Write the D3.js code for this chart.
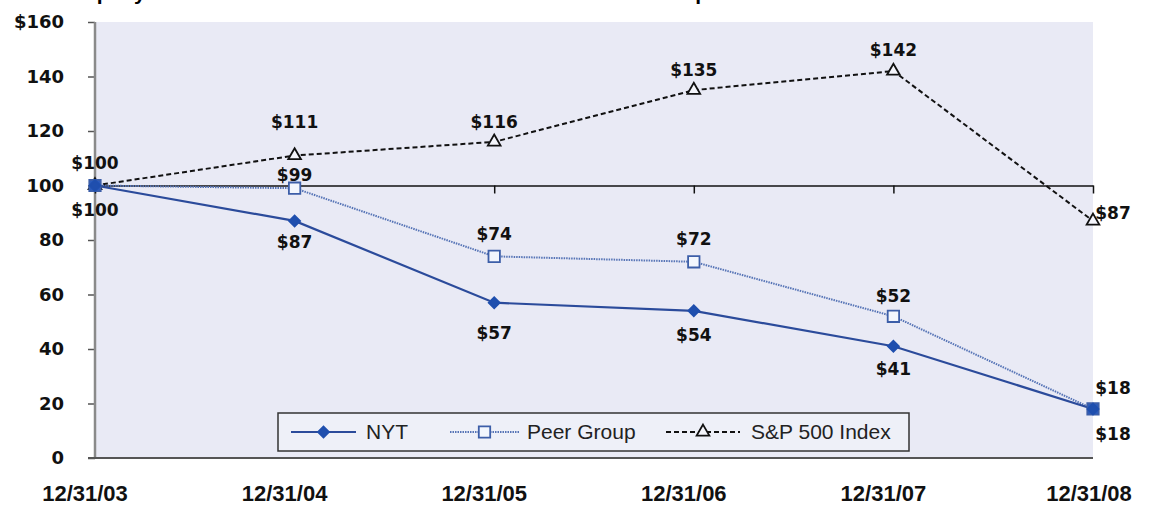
<!DOCTYPE html>
<html>
<head>
<meta charset="utf-8">
<script src="https://cdn.jsdelivr.net/npm/d3@7"></script>
<style>
  body { margin: 0; background: #fff; }
  svg text { font-family: "Liberation Sans", Arial, sans-serif; }
</style>
</head>
<body>
<div id="canvas"></div>
<script>
// данные с картинки
var dates = ["12/31/03", "12/31/04", "12/31/05", "12/31/06", "12/31/07", "12/31/08"]
var nyt = [100, 87, 57, 54, 41, 18]
var peer = [100, 99, 74, 72, 52, 18]
var sp500 = [100, 111, 116, 135, 142, 87]
var yTicks = [0, 20, 40, 60, 80, 100, 120, 140, 160]

var width = 1149, height = 508
var plotLeft = 95, plotRight = 1093, plotTop = 22, plotBottom = 458

var x = d3.scalePoint().domain(dates).range([plotLeft, plotRight])
var y = d3.scaleLinear().domain([0, 160]).range([plotBottom, plotTop])

var svg = d3.select("#canvas").append("svg")
    .attr("width", width)
    .attr("height", height)

// заголовок (обрезан сверху, как на оригинале)
svg.append("text")
    .attr("x", 50).attr("y", 0)
    .style("font-size", "21px").style("font-weight", "bold")
    .text("Company's Stock Performance vs. S&P 500 Index and Peer Group")

// фон области
svg.append("rect")
    .attr("x", plotLeft).attr("y", plotTop)
    .attr("width", plotRight - plotLeft).attr("height", plotBottom - plotTop)
    .style("fill", "#e9eaf5")

// ось Y
var yAxis = svg.append("g")
    .attr("transform", "translate(" + plotLeft + ",0)")
    .call(d3.axisLeft(y).tickValues(yTicks).tickSize(7).tickPadding(24)
        .tickFormat(function (d) { return d == 160 ? "$160" : d }))
yAxis.select(".domain").remove()
yAxis.selectAll("line").style("stroke", "#555").style("stroke-width", 1.5)
yAxis.selectAll("text")
    .style("font-size", "18px").style("font-weight", "bold")
    .style("font-family", "DejaVu Sans, sans-serif")
    .style("fill", "#111")

svg.append("line")
    .attr("x1", plotLeft).attr("x2", plotLeft)
    .attr("y1", plotTop).attr("y2", plotBottom)
    .style("stroke", "#8a8a8a").style("stroke-width", 2.5)

// нижняя линия
svg.append("line")
    .attr("x1", plotLeft - 7).attr("x2", plotRight)
    .attr("y1", plotBottom).attr("y2", plotBottom)
    .style("stroke", "#555").style("stroke-width", 2)

// ось X пересекает на 100
var xAxis = svg.append("g")
    .attr("transform", "translate(0," + y(100) + ")")
    .call(d3.axisBottom(x).tickSize(8).tickSizeOuter(0).tickFormat(""))
xAxis.select(".domain").style("stroke", "#111").style("stroke-width", 1.5)
xAxis.selectAll("line").style("stroke", "#111").style("stroke-width", 1.5)

// подписи дат внизу (чуть левее делений, как в оригинале)
svg.selectAll(".xlab").data(dates).enter().append("text")
    .attr("class", "xlab")
    .attr("x", function (d, i) { return x(d) - (i == dates.length - 1 ? 4 : 10) })
    .attr("y", 501)
    .attr("text-anchor", "middle")
    .style("font-size", "22px").style("font-weight", "bold")
    .style("fill", "#111")
    .text(function (d) { return d })

var line = d3.line()
    .x(function (d, i) { return x(dates[i]) })
    .y(function (d) { return y(d) })

// S&P 500
svg.append("path").datum(sp500)
    .attr("d", line)
    .style("fill", "none").style("stroke", "#111")
    .style("stroke-width", 2).style("stroke-dasharray", "5,3")

// Peer group
svg.append("path").datum(peer)
    .attr("d", line)
    .style("fill", "none").style("stroke", "#5674b6")
    .style("stroke-width", 2).style("stroke-dasharray", "1.5,1")

// NYT
svg.append("path").datum(nyt)
    .attr("d", line)
    .style("fill", "none").style("stroke", "#2b4b9b")
    .style("stroke-width", 2.2)

var tri = d3.symbol().type(d3.symbolTriangle).size(70)
var sq = d3.symbol().type(d3.symbolSquare).size(130)
var dia = d3.symbol().type(d3.symbolSquare).size(60)

function markers(data, sym, fill, stroke, cls, rot) {
    svg.selectAll("." + cls).data(data).enter().append("path")
        .attr("class", cls)
        .attr("d", sym)
        .attr("transform", function (d, i) {
            return "translate(" + x(dates[i]) + "," + y(d) + ") rotate(" + rot + ")"
        })
        .style("fill", function (d, i) {
            // там, где квадрат совпадает с ромбом, он закрашен синим
            return cls == "m_peer" && d == nyt[i] ? "#2a5bbf" : fill
        })
        .style("stroke", stroke).style("stroke-width", 1.8)
}

markers(sp500, tri, "#f4f5fb", "#111", "m_sp", 0)
markers(peer, sq, "#f2f6fd", "#3c5ea8", "m_peer", 0)
markers(nyt, dia, "#1f4fae", "#1f4fae", "m_nyt", 45)

// подписи значений: смещения от точки
var labelsSp = [[0, -22], [0, -33], [0, -20], [0, -20], [0, -21], [20, -8]]
var labelsPeer = [null, [0, -13], [0, -22], [0, -23], [0, -20], [20, -21]]
var labelsNyt = [[0, 25], [0, 21], [0, 30], [0, 24], [0, 23], [20, 25]]

function labels(data, offs, cls) {
    var pts = data.map(function (v, i) { return { v: v, i: i, off: offs[i] } })
        .filter(function (p) { return p.off != null })
    svg.selectAll("." + cls).data(pts).enter().append("text")
        .attr("class", cls)
        .attr("x", function (p) { return x(dates[p.i]) + p.off[0] })
        .attr("y", function (p) { return y(p.v) + p.off[1] })
        .attr("dy", "0.35em")
        .attr("text-anchor", "middle")
        .style("font-family", "DejaVu Sans, sans-serif")
        .style("font-size", "17px").style("font-weight", "bold")
        .style("fill", "#111")
        .text(function (p) { return "$" + p.v })
}

labels(sp500, labelsSp, "l_sp")
labels(peer, labelsPeer, "l_peer")
labels(nyt, labelsNyt, "l_nyt")

// легенда
var lg = svg.append("g")
lg.append("rect")
    .attr("x", 278).attr("y", 413).attr("width", 631).attr("height", 38)
    .style("fill", "#eef0f8").style("stroke", "#333").style("stroke-width", 1.5)

var ly = 432
var legendItems = [
    { name: "NYT", x1: 291, x2: 356, tx: 366, sym: dia, rot: 45, fill: "#1f4fae", stroke: "#1f4fae", color: "#2b4b9b", dash: null },
    { name: "Peer Group", x1: 450, x2: 519, tx: 527, sym: sq, rot: 0, fill: "#f2f6fd", stroke: "#3c5ea8", color: "#5674b6", dash: "1.5,1" },
    { name: "S&P 500 Index", x1: 666, x2: 740, tx: 751, sym: tri, rot: 0, fill: "#f4f5fb", stroke: "#111", color: "#111", dash: "5,3" }
]

legendItems.forEach(function (it) {
    lg.append("line")
        .attr("x1", it.x1).attr("x2", it.x2).attr("y1", ly).attr("y2", ly)
        .style("stroke", it.color).style("stroke-width", 2)
        .style("stroke-dasharray", it.dash)
    lg.append("path")
        .attr("d", it.sym)
        .attr("transform", "translate(" + (it.x1 + it.x2) / 2 + "," + ly + ") rotate(" + it.rot + ")")
        .style("fill", it.fill).style("stroke", it.stroke).style("stroke-width", 1.8)
    lg.append("text")
        .attr("x", it.tx).attr("y", ly).attr("dy", "0.35em")
        .style("font-size", "21px").style("fill", "#222")
        .text(it.name)
})
</script>
</body>
</html>
